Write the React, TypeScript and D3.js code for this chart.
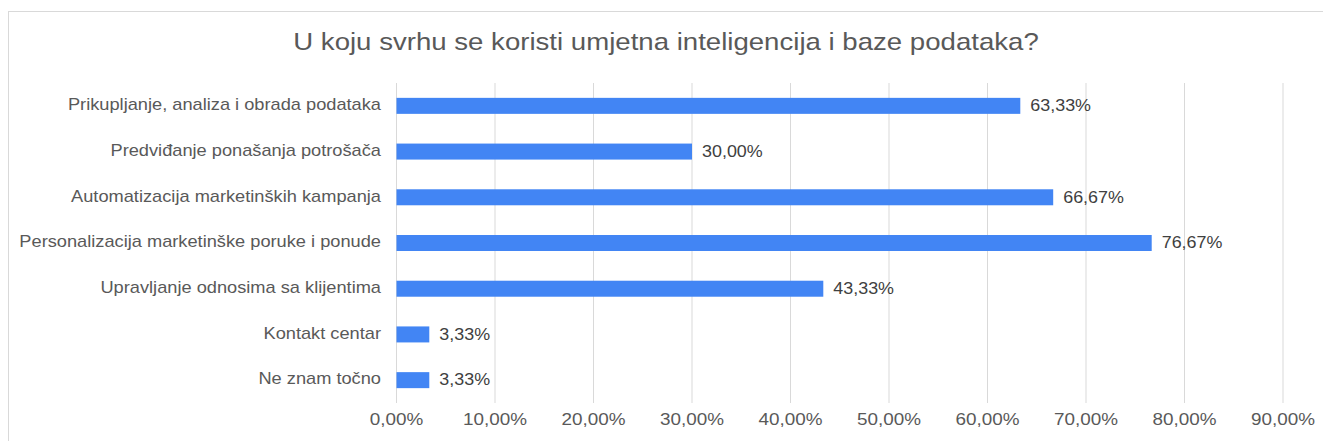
import React from 'react';
import * as d3 from 'd3';

const title = 'U koju svrhu se koristi umjetna inteligencija i baze podataka?';
const categories = [
  'Prikupljanje, analiza i obrada podataka',
  'Predviđanje ponašanja potrošača',
  'Automatizacija marketinških kampanja',
  'Personalizacija marketinške poruke i ponude',
  'Upravljanje odnosima sa klijentima',
  'Kontakt centar',
  'Ne znam točno',
];
const values = [63.33, 30.0, 66.67, 76.67, 43.33, 3.33, 3.33];
const ticks = [0, 10, 20, 30, 40, 50, 60, 70, 80, 90];

const W = 1323;
const H = 441;
const fmt = (v: number) => v.toFixed(2).replace('.', ',') + '%';
const font = '"Liberation Sans", Arial, sans-serif';
const textColor = '#595959';

// the reference text is a bit wider than the font renders here
const Txt = ({ x, y, anchor = 'start', size, sx, fill, children }: any) => (
  <text
    transform={`translate(${x},${y}) scale(${sx},1)`}
    textAnchor={anchor}
    dominantBaseline="middle"
    fontSize={size}
    fill={fill}
  >
    {children}
  </text>
);

const App = () => {
  const x = d3.scaleLinear().domain([0, 90]).range([396.5, 1283]);
  const y = d3.scaleBand<string>().domain(categories).range([83, 403]).paddingInner(0.65).paddingOuter(0.325);

  return (
    <svg width={W} height={H} style={{ position: 'absolute', left: 0, top: 0 }} fontFamily={font}>
      <rect x={0} y={0} width={W} height={H} fill="#fff" />
      <rect x={8.5} y={11.5} width={W + 10} height={H + 10} fill="none" stroke="#d9d9d9" strokeWidth={1} />
      <Txt x={666} y={44} anchor="middle" size={24} sx={1.15} fill={textColor}>
        {title}
      </Txt>
      {ticks.map((t) => (
        <g key={t}>
          <line x1={x(t)} x2={x(t)} y1={83} y2={403} stroke="#d9d9d9" strokeWidth={1} />
          <Txt x={x(t)} y={421} anchor="middle" size={16} sx={1.18} fill={textColor}>
            {fmt(t)}
          </Txt>
        </g>
      ))}
      {categories.map((c, i) => {
        const by = y(c)!;
        const bh = y.bandwidth();
        return (
          <g key={c}>
            <rect x={x(0)} y={by} width={x(values[i]) - x(0)} height={bh} fill="#4285f4" />
            <Txt x={x(values[i]) + 10} y={by + bh / 2 + 1} size={16} sx={1.12} fill="#404040">
              {fmt(values[i])}
            </Txt>
            <Txt x={381} y={by + bh / 2} anchor="end" size={16} sx={1.14} fill={textColor}>
              {c}
            </Txt>
          </g>
        );
      })}
    </svg>
  );
};

export default App;
